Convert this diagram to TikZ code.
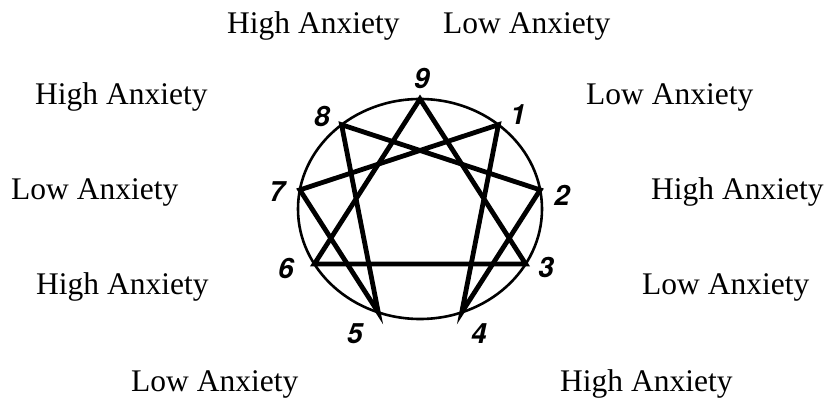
\documentclass[tikz,border=0pt]{standalone}
\usepackage{fontspec}
\setmainfont{Liberation Serif}
\newfontfamily\digitfont{TeX Gyre Heros}
\usetikzlibrary{positioning}

\tikzset{
  anx/.style={anchor=base west, inner sep=0pt, font=\fontsize{31.5}{33}\selectfont},
  pnum/.style={inner sep=0pt, font=\digitfont\bfseries\itshape\fontsize{28}{28}\selectfont},
  figline/.style={line width=4.8pt, line join=miter},
}

\begin{document}
\begin{tikzpicture}[x=1pt, y=1pt]
\useasboundingbox (0,0) rectangle (827,399);
% circle and the nine points on it
\draw[line width=2.6pt] (420,190) ellipse [x radius=122pt, y radius=110pt];
\foreach \n [count=\i from 0] in {9,1,2,3,4,5,6,7,8}
  \coordinate (v\n) at ({420+122*cos(90-40*\i)},{190+110*sin(90-40*\i)});
\draw[figline] (v9) -- (v3) -- (v6) -- cycle;
\draw[figline] (v1) -- (v4) -- (v2) -- (v8) -- (v5) -- (v7) -- cycle;
% point numbers
\node[pnum] (n9) at (422,321) {9};
\node[pnum] (n1) at (518,284) {1};
\node[pnum] (n2) at (562,204) {2};
\node[pnum] (n3) at (546,132) {3};
\node[pnum] (n4) at (479,65) {4};
\node[pnum] (n5) at (355,65) {5};
\node[pnum] (n6) at (286,131) {6};
\node[pnum] (n7) at (277,207) {7};
\node[pnum] (n8) at (322,283) {8};
% anxiety labels
\node[anx] (top9h) at (227,365) {High Anxiety};
\node[anx] (top9l) at (443,365) {Low Anxiety};
\node[anx] (lab8) at (35,294) {High Anxiety};
\node[anx] (lab1) at (586,294) {Low Anxiety};
\node[anx] (lab7) at (11,199) {Low Anxiety};
\node[anx] (lab2) at (651,199) {High Anxiety};
\node[anx] (lab6) at (36,104) {High Anxiety};
\node[anx] (lab3) at (642,104) {Low Anxiety};
\node[anx] (lab5) at (131,8) {Low Anxiety};
\node[anx] (lab4) at (560,8) {High Anxiety};
\end{tikzpicture}
\end{document}
